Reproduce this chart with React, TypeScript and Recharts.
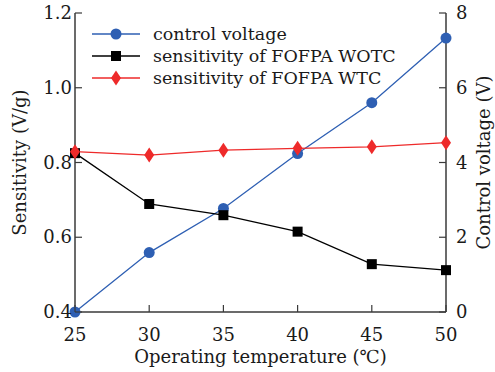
import React from 'react';
import { LineChart, Line, XAxis, YAxis } from 'recharts';

const temperatures = [25, 30, 35, 40, 45, 50];
const controlVoltage = [0, 1.59, 2.77, 4.24, 5.6, 7.33];
const sensitivityWotc = [0.825, 0.689, 0.659, 0.615, 0.528, 0.512];
const sensitivityWtc = [0.829, 0.82, 0.833, 0.838, 0.842, 0.853];

const xTicks = [25, 30, 35, 40, 45, 50];
const leftTicks = [0.4, 0.6, 0.8, 1.0, 1.2];
const rightTicks = [0, 2, 4, 6, 8];

const BLUE = '#2e5fb3';
const BLACK = '#000000';
const RED = '#ee2a2a';
const AXIS = '#3a3a3a';
const TEXT = '#1a1a1a';
const FONT = '"DejaVu Serif", serif';

const data = temperatures.map((t, i) => ({
  t,
  voltage: controlVoltage[i],
  wotc: sensitivityWotc[i],
  wtc: sensitivityWtc[i],
}));

const fmtLeft = (v: number) => v.toFixed(1);

// tick labels with the tick mark drawn pointing into the plot
const LeftTick = ({ x, y, payload }: any) => (
  <g>
    <line x1={x + 8} x2={x + 15} y1={y} y2={y} stroke={AXIS} strokeWidth={1.2} />
    <text x={x + 5} y={y} dy={6} textAnchor="end" fontSize={18} fontFamily={FONT} fill={TEXT}>
      {fmtLeft(payload.value)}
    </text>
  </g>
);

const RightTick = ({ x, y, payload }: any) => (
  <g>
    <line x1={x - 8} x2={x - 15} y1={y} y2={y} stroke={AXIS} strokeWidth={1.2} />
    <text x={x + 2} y={y} dy={6} textAnchor="start" fontSize={18} fontFamily={FONT} fill={TEXT}>
      {payload.value}
    </text>
  </g>
);

const BottomTick = ({ x, y, payload }: any) => (
  <g>
    <line x1={x} x2={x} y1={y} y2={y - 7} stroke={AXIS} strokeWidth={1.2} />
    <text x={x} y={y} dy={29} textAnchor="middle" fontSize={18} fontFamily={FONT} fill={TEXT}>
      {payload.value}
    </text>
  </g>
);

const Circle = ({ cx, cy, fill, r = 5.5 }: any) => <circle cx={cx} cy={cy} r={r} fill={fill} />;
const Square = ({ cx, cy, fill, s = 10 }: any) => (
  <rect x={cx - s / 2} y={cy - s / 2} width={s} height={s} fill={fill} />
);
const Diamond = ({ cx, cy, fill, w = 5, h = 7.5 }: any) => (
  <path d={`M${cx},${cy - h}L${cx + w},${cy}L${cx},${cy + h}L${cx - w},${cy}Z`} fill={fill} />
);

const legendRows = [
  { label: 'control voltage', color: BLUE, Marker: Circle },
  { label: 'sensitivity of FOFPA WOTC', color: BLACK, Marker: Square },
  { label: 'sensitivity of FOFPA WTC', color: RED, Marker: Diamond },
];

const LegendBox = () => (
  <svg width={330} height={70} style={{ position: 'absolute', left: 92, top: 23 }}>
    {legendRows.map(({ label, color, Marker }, i) => {
      const y = 11 + i * 22;
      return (
        <g key={label}>
          <line x1={0} x2={48} y1={y} y2={y} stroke={color} strokeWidth={1.3} />
          <Marker cx={24} cy={y} fill={color} />
          <text x={61} y={y} dy={6} fontSize={17.5} fontFamily={FONT} fill={TEXT}>
            {label}
          </text>
        </g>
      );
    })}
  </svg>
);

const SideLabel = ({ viewBox, value, dx }: any) => {
  const x = viewBox.x + dx;
  const y = viewBox.y + viewBox.height / 2;
  return (
    <text
      x={x}
      y={y}
      transform={`rotate(-90 ${x} ${y})`}
      textAnchor="middle"
      dominantBaseline="central"
      fontSize={18}
      fontFamily={FONT}
      fill={TEXT}
    >
      {value}
    </text>
  );
};

export default function App() {
  return (
    <div style={{ position: 'absolute', left: 0, top: 0, width: 495, height: 372, background: '#fff' }}>
      <LineChart width={495} height={372} data={data} margin={{ top: 13, right: 0, left: 0, bottom: 0 }}>
        <XAxis
          xAxisId="top"
          orientation="top"
          dataKey="t"
          type="number"
          domain={[25, 50]}
          height={0}
          tick={false}
          tickLine={false}
          axisLine={{ stroke: AXIS, strokeWidth: 1.5 }}
        />
        <XAxis
          dataKey="t"
          type="number"
          domain={[25, 50]}
          ticks={xTicks}
          height={60}
          tickLine={false}
          tickSize={0}
          tickMargin={0}
          tick={<BottomTick />}
          axisLine={{ stroke: AXIS, strokeWidth: 1.5 }}
          label={{
            value: 'Operating temperature (℃)',
            position: 'insideBottom',
            offset: 9,
            fontSize: 18,
            fontFamily: FONT,
            fill: TEXT,
          }}
        />
        <YAxis
          yAxisId="left"
          domain={[0.4, 1.2]}
          ticks={leftTicks}
          width={75}
          tickLine={false}
          tickSize={0}
          tickMargin={8}
          tick={<LeftTick />}
          axisLine={{ stroke: AXIS, strokeWidth: 1.5 }}
          label={<SideLabel value="Sensitivity (V/g)" dx={19} />}
        />
        <YAxis
          yAxisId="right"
          orientation="right"
          domain={[0, 8]}
          ticks={rightTicks}
          width={49}
          tickLine={false}
          tickSize={0}
          tickMargin={8}
          tick={<RightTick />}
          axisLine={{ stroke: AXIS, strokeWidth: 1.5 }}
          label={<SideLabel value="Control voltage (V)" dx={37} />}
        />
        <Line
          yAxisId="right"
          dataKey="voltage"
          stroke={BLUE}
          strokeWidth={1.3}
          dot={(p: any) => <Circle key={p.index} cx={p.cx} cy={p.cy} fill={BLUE} />}
          isAnimationActive={false}
        />
        <Line
          yAxisId="left"
          dataKey="wotc"
          stroke={BLACK}
          strokeWidth={1.3}
          dot={(p: any) => <Square key={p.index} cx={p.cx} cy={p.cy} fill={BLACK} />}
          isAnimationActive={false}
        />
        <Line
          yAxisId="left"
          dataKey="wtc"
          stroke={RED}
          strokeWidth={1.3}
          dot={(p: any) => <Diamond key={p.index} cx={p.cx} cy={p.cy} fill={RED} />}
          isAnimationActive={false}
        />
      </LineChart>
      <LegendBox />
    </div>
  );
}
